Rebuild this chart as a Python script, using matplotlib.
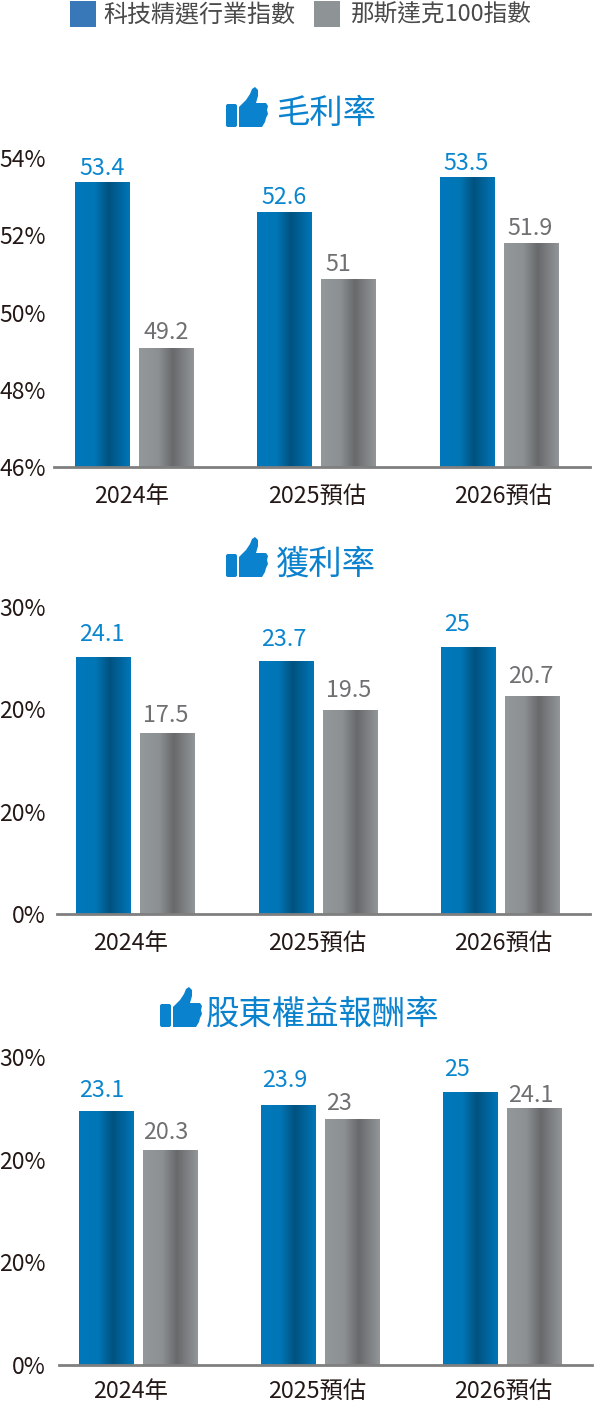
import numpy as np
import matplotlib
matplotlib.use("Agg")
import matplotlib.pyplot as plt
from matplotlib.patches import Rectangle, Polygon, FancyBboxPatch
from matplotlib.colors import LinearSegmentedColormap

plt.rcParams['font.family'] = ['Noto Sans CJK TC', 'DejaVu Sans']

W, H = 595, 1403

# data
categories = ['2024年', '2025預估', '2026預估']
legend_names = ['科技精選行業指數', '那斯達克100指數']

gross_title = '毛利率'
gross_ticks = ['46%', '48%', '50%', '52%', '54%']
gross_tick_vals = [46, 48, 50, 52, 54]
gross_blue = [53.37, 52.58, 53.5]
gross_grey = [49.08, 50.85, 51.78]
gross_blue_labels = ['53.4', '52.6', '53.5']
gross_grey_labels = ['49.2', '51', '51.9']

profit_title = '獲利率'
profit_ticks = ['0%', '20%', '20%', '30%']
profit_tick_vals = [0, 10, 20, 30]
profit_blue = [25.1, 24.7, 26.0]
profit_grey = [17.6, 19.9, 21.3]
profit_blue_labels = ['24.1', '23.7', '25']
profit_grey_labels = ['17.5', '19.5', '20.7']

roe_title = '股東權益報酬率'
roe_ticks = ['0%', '20%', '20%', '30%']
roe_tick_vals = [0, 10, 20, 30]
roe_blue = [24.7, 25.3, 26.5]
roe_grey = [20.9, 23.9, 25.0]
roe_blue_labels = ['23.1', '23.9', '25']
roe_grey_labels = ['20.3', '23', '24.1']

BLUE_TEXT = '#0a86cf'
GREY_TEXT = '#6f7072'
DARK = '#231815'

blue_map = LinearSegmentedColormap.from_list('b', [(0, '#0078bb'), (0.35, '#0076b6'), (0.62, '#00527f'), (1, '#0076b8')])
grey_map = LinearSegmentedColormap.from_list('g', [(0, '#93989b'), (0.35, '#8c9093'), (0.62, '#68696b'), (1, '#929699')])
ramp = np.linspace(0, 1, 128).reshape(1, -1)

fig = plt.figure(figsize=(W / 100, H / 100), dpi=100)
fig.patch.set_facecolor('white')


def grad_bars(ax, xs, vals, width, cmap, bottom):
    bars = ax.bar(xs, np.array(vals) - bottom, width, bottom=bottom, color='none')
    for b in bars:
        x0, y0 = b.get_x(), b.get_y()
        ax.imshow(ramp, extent=[x0, x0 + b.get_width(), y0, y0 + b.get_height()],
                  cmap=cmap, aspect='auto', zorder=2, interpolation='bilinear')


def panel(left, right, base_y, top_y, first_center, tick_vals, tick_labels, blue, grey, blue_lab, grey_lab,
          blue_gap, grey_gap, lab_pad, tick_shift, xpad=13):
    ax = fig.add_axes([left / W, 1 - base_y / H, (right - left) / W, (base_y - top_y) / H])
    ax.patch.set_alpha(0)
    step = 182.3
    # one x unit is one group, so the pixel layout stays proportional
    x = np.arange(3)
    off = 32 / step
    bw = 55 / step
    x0 = -(first_center - left) / step
    grad_bars(ax, x - off, blue, bw, blue_map, tick_vals[0])
    grad_bars(ax, x + off, grey, bw, grey_map, tick_vals[0])
    ax.set_xlim(x0, x0 + (right - left) / step)
    ax.set_ylim(tick_vals[0], tick_vals[-1])
    ax.set_yticks(tick_vals)
    ax.set_yticklabels(tick_labels, fontsize=16.5, color=DARK)
    ax.set_xticks(x + np.array(tick_shift) / step)
    ax.set_xticklabels(categories, fontsize=16.8, color=DARK)
    ax.tick_params(axis='y', length=0, pad=(left - 46) * 0.72)
    ax.tick_params(axis='x', length=0, pad=xpad)
    for s in ['top', 'left', 'right']:
        ax.spines[s].set_visible(False)
    ax.spines['bottom'].set_color('#7f7f7f')
    ax.spines['bottom'].set_linewidth(2.0)
    ax.spines['bottom'].set_zorder(3)
    pad = lab_pad / step
    for i in range(3):
        ax.annotate(blue_lab[i], (x[i] - off - bw / 2 + pad, blue[i]), xytext=(0, blue_gap[i] * 0.72),
                    textcoords='offset points', ha='left', va='center', fontsize=16.8, color=BLUE_TEXT)
        ax.annotate(grey_lab[i], (x[i] + off - bw / 2 + pad, grey[i]), xytext=(0, grey_gap[i] * 0.72),
                    textcoords='offset points', ha='left', va='center', fontsize=16.8, color=GREY_TEXT)
    return ax


panel(54, 590, 467, 158, 134.6, gross_tick_vals, gross_ticks, gross_blue, gross_grey,
      gross_blue_labels, gross_grey_labels, [14, 15, 14], [16, 15, 15], 4, [-3.5, 0, 4])
panel(57, 590, 914, 607, 135.7, profit_tick_vals, profit_ticks, profit_blue, profit_grey,
      profit_blue_labels, profit_grey_labels, [23, 22, 23], [18, 20, 20], 3, [-4.7, -1.2, 2.8])
panel(59, 592, 1365, 1057, 138, roe_tick_vals, roe_ticks, roe_blue, roe_grey,
      roe_blue_labels, roe_grey_labels, [21, 25, 23], [18, 16, 13], 1, [-7, -3, 1], xpad=11)

# overlay in pixels for legend, titles and thumb icons
over = fig.add_axes([0, 0, 1, 1])
over.set_xlim(0, W)
over.set_ylim(H, 0)
over.axis('off')
over.patch.set_alpha(0)

over.add_patch(Rectangle((70, 1), 26, 26, color='#3878b8', lw=0))
over.add_patch(Rectangle((314, 1), 26, 26, color='#8e9496', lw=0))
over.text(103, 15, legend_names[0], fontsize=17.3, color='#4a4a4a', ha='left', va='center')
over.text(350, 15, legend_names[1], fontsize=17, color='#4a4a4a', ha='left', va='center')


def thumb(x, y):
    c = '#0a82ce'
    over.add_patch(FancyBboxPatch((x, y + 17), 11, 23, boxstyle='round,pad=0,rounding_size=2', color=c, lw=0))
    pts = [(13, 20), (20, 13), (24, 7), (26, 2), (29, 0), (32, 3), (32, 9), (30, 16),
           (40, 16), (42, 19), (41, 23), (42, 27), (40, 31), (39, 35), (36, 40), (13, 40)]
    over.add_patch(Polygon([(x + a, y + b) for a, b in pts], closed=True, color=c, lw=0))


for tx, ty, ix, iy, t in [(276, 113, 226, 87, gross_title), (276, 564, 226, 537, profit_title),
                          (206, 1014, 160, 987, roe_title)]:
    thumb(ix, iy)
    over.text(tx, ty, t, fontsize=24, color='#0a82ce', ha='left', va='center')

fig.savefig('out.png', dpi=100)
